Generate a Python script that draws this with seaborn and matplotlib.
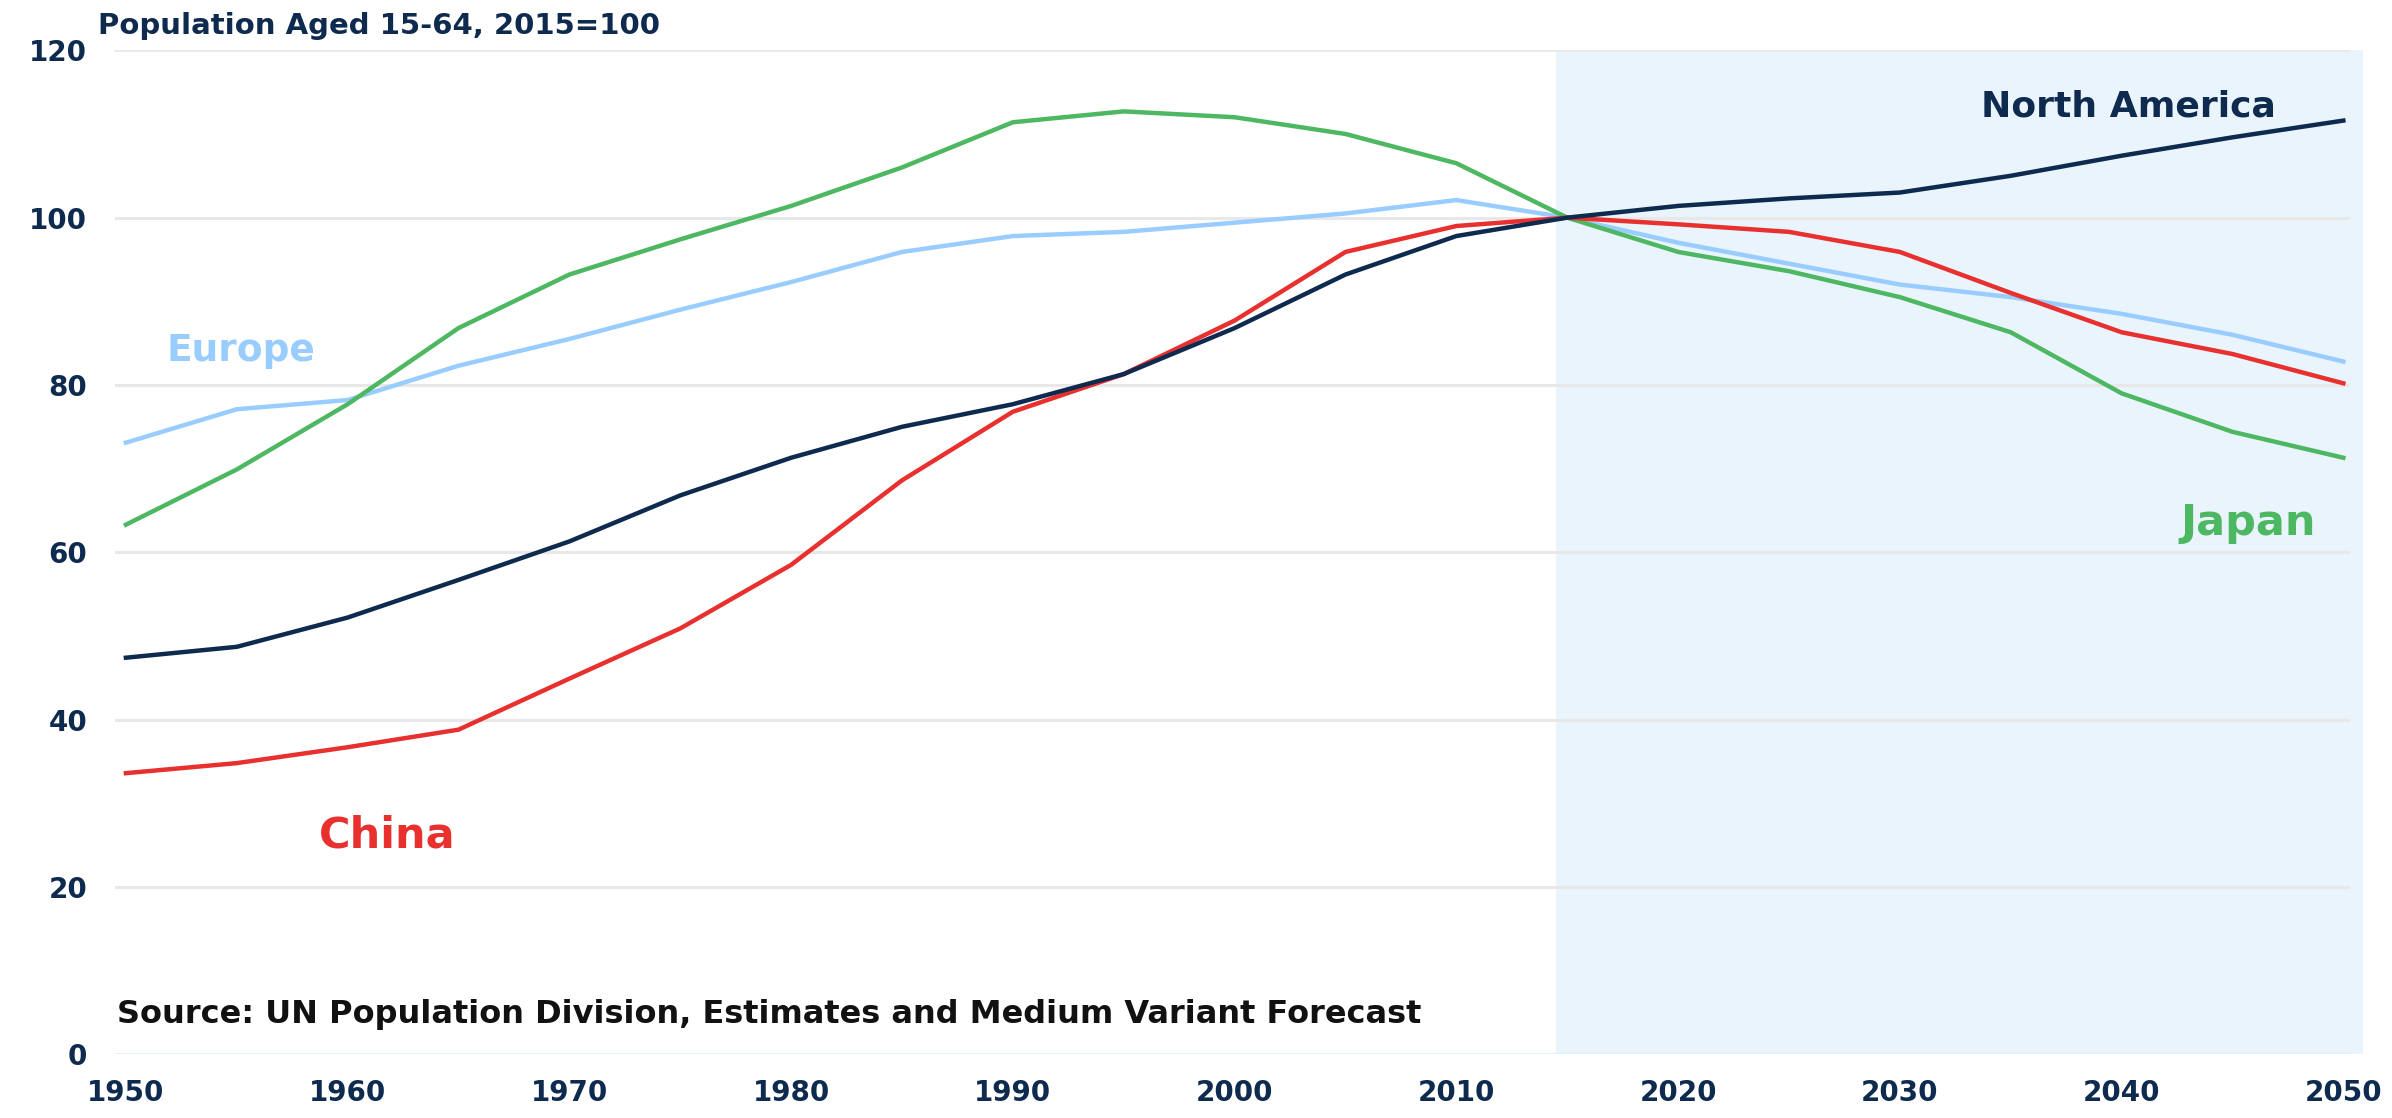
### working-age population index chart
import pandas as pd
import matplotlib
matplotlib.use("Agg")
import matplotlib.pyplot as plt
import seaborn as sns

years = list(range(1950, 2051, 5))
north_america = [47.4, 48.7, 52.2, 56.7, 61.3, 66.8, 71.3, 75.0, 77.7, 81.3, 86.8,
                 93.2, 97.8, 100.0, 101.4, 102.3, 103.0, 105.0, 107.4, 109.6, 111.6]
europe = [73.1, 77.1, 78.2, 82.3, 85.5, 89.0, 92.3, 95.9, 97.8, 98.3, 99.4,
          100.5, 102.1, 100.0, 97.0, 94.5, 92.0, 90.5, 88.5, 86.0, 82.8]
japan = [63.3, 69.9, 77.7, 86.8, 93.2, 97.4, 101.4, 106.0, 111.4, 112.7, 112.0,
         110.0, 106.5, 100.0, 95.9, 93.6, 90.5, 86.3, 79.0, 74.4, 71.3]
china = [33.6, 34.8, 36.7, 38.8, 44.9, 50.9, 58.5, 68.6, 76.8, 81.3, 87.7,
         95.9, 99.0, 100.0, 99.2, 98.3, 95.9, 91.0, 86.3, 83.7, 80.2]

regions = ["Europe", "Japan", "China", "North America"]
colors = {"Europe": "#99CCFF", "Japan": "#4DB861", "China": "#E8312F",
          "North America": "#0E2A4E"}
label_pos = {"North America": (2040.3, 113.3), "Europe": (1955.2, 84.1),
             "China": (1961.8, 26.1), "Japan": (2045.7, 63.5)}
label_size = {"North America": 26, "Europe": 27, "China": 31, "Japan": 31}

dfx = pd.DataFrame({
    "year": years * 4,
    "value": europe + japan + china + north_america,
    "region": sum([[r] * len(years) for r in regions], []),
})

navy = "#0E2A4E"
fig = plt.figure(figsize=(23.92, 11.18), dpi=100)
ax = fig.add_axes([0.048, 0.057, 0.940, 0.898])

ax.axvspan(2014.5, 2050.9, color="#EAF4FD", zorder=0, lw=0)
for v in range(20, 121, 20):
    ax.axhline(v, xmax=0.993, color="#E8E8E8", lw=2.2, zorder=1)
ax.axhline(0, xmax=0.993, color="#E3F0FC", lw=2.2, zorder=1)

sns.lineplot(data=dfx, x="year", y="value", hue="region", palette=colors,
             hue_order=regions, lw=3.2, legend=False, ax=ax, zorder=3)

for r, (x, y) in label_pos.items():
    ax.text(x, y, r, color=colors[r], fontsize=label_size[r], fontweight="bold",
            ha="center", va="center")

ax.text(1949.6, 4.7, "Source: UN Population Division, Estimates and Medium Variant Forecast",
        fontsize=23, fontweight="bold", color="#111111", ha="left", va="center")
fig.text(0.041, 0.977, "Population Aged 15-64, 2015=100", fontsize=21,
         fontweight="bold", color=navy, ha="left", va="center")

ax.set_xlim(1949.5, 2050.9)
ax.set_ylim(0, 120)
ax.set_xticks(range(1950, 2051, 10))
ax.set_yticks(range(0, 121, 20))
ax.tick_params(axis="both", length=0, labelsize=20, labelcolor=navy)
ax.tick_params(axis="y", pad=20)
ax.tick_params(axis="x", pad=18)
for lab in ax.get_xticklabels() + ax.get_yticklabels():
    lab.set_fontweight("bold")
ax.set_xlabel("")
ax.set_ylabel("")
for s in ax.spines.values():
    s.set_visible(False)
ax.set_facecolor("white")

fig.savefig("out.png", dpi=100)
